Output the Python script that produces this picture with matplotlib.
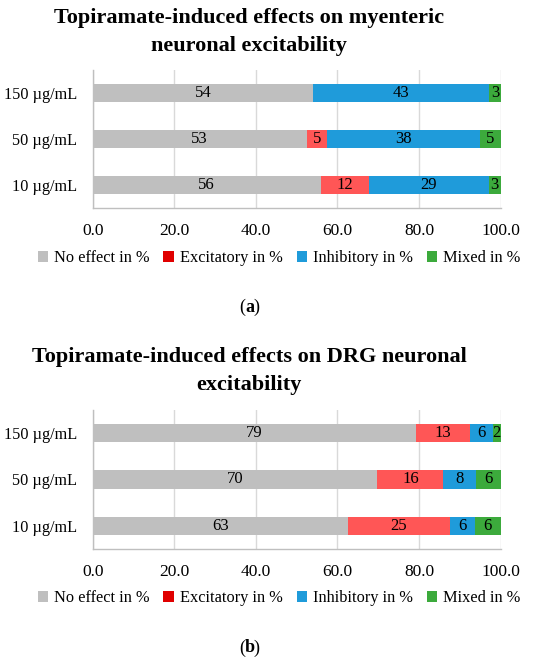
import matplotlib
matplotlib.use("Agg")
import matplotlib.pyplot as plt
from matplotlib.patches import Patch
import numpy as np

plt.rcParams['font.family'] = ['Liberation Serif', 'DejaVu Serif']

doses = ["10 µg/mL", "50 µg/mL", "150 µg/mL"]
series = ["No effect in %", "Excitatory in %", "Inhibitory in %", "Mixed in %"]
bar_colors = ["#BFBFBF", "#FF5656", "#1F9BDA", "#3CAA3C"]
legend_colors = ["#BFBFBF", "#E00000", "#1F9BDA", "#3CAA3C"]
x_ticks = [0, 20, 40, 60, 80, 100]

# panel (a): myenteric neurons, rows follow doses
myenteric_none = [55.9, 52.5, 54.1]
myenteric_exc = [11.8, 5.0, 0.0]
myenteric_inh = [29.4, 37.5, 43.2]
myenteric_mix = [2.9, 5.0, 2.7]

# panel (b): DRG neurons
drg_none = [62.5, 69.8, 79.4]
drg_exc = [25.0, 16.2, 13.0]
drg_inh = [6.25, 7.9, 5.8]
drg_mix = [6.25, 6.1, 1.8]

titles = ["Topiramate-induced effects on myenteric\nneuronal excitability",
          "Topiramate-induced effects on DRG neuronal\nexcitability"]
panel_tags = ["a", "b"]


def draw_panel(ax, data):
    y = np.arange(len(doses))
    left = np.zeros(len(doses))
    for vals, col in zip(data, bar_colors):
        vals = np.array(vals)
        ax.barh(y, vals, left=left, height=0.4, color=col, zorder=3)
        for yi, v, l in zip(y, vals, left):
            if v > 0:
                ax.text(l + v / 2, yi, str(int(v + 0.5)), ha="center", va="center",
                        fontsize=12, color="black", zorder=4)
        left += vals
    ax.set_xlim(0, 100)
    ax.set_ylim(-0.5, len(doses) - 0.5)
    ax.set_yticks(y)
    ax.set_yticklabels(doses, fontsize=11.7)
    ax.set_xticks(x_ticks)
    ax.set_xticklabels([f"{t:.1f}" for t in x_ticks], fontsize=12.5)
    ax.tick_params(axis="x", length=0, pad=11)
    ax.tick_params(axis="y", length=0, pad=11)
    ax.grid(axis="x", color="#D9D9D9", linewidth=1, zorder=0)
    for s in ["top", "right"]:
        ax.spines[s].set_visible(False)
    for s in ["left", "bottom"]:
        ax.spines[s].set_color("#BFBFBF")
        ax.spines[s].set_linewidth(1)


fig = plt.figure(figsize=(5.5, 6.63), dpi=100)
H = 663.0
W = 550.0

panels = [
    dict(data=[myenteric_none, myenteric_exc, myenteric_inh, myenteric_mix],
         top=70, bottom=208, title_y=32, legend_y=258, tag_y=307),
    dict(data=[drg_none, drg_exc, drg_inh, drg_mix],
         top=410, bottom=549, title_y=371, legend_y=598, tag_y=648),
]

handles = [Patch(facecolor=c, edgecolor="none") for c in legend_colors]

for p, title, tag in zip(panels, titles, panel_tags):
    ax = fig.add_axes([92.7 / W, 1 - p["bottom"] / H, (500.5 - 92.7) / W,
                       (p["bottom"] - p["top"]) / H])
    draw_panel(ax, p["data"])
    fig.text(249 / W, 1 - p["title_y"] / H, title, ha="center", va="center",
             fontsize=16, fontweight="bold", linespacing=1.5)
    fig.legend(handles, series, loc="center", ncol=4,
               bbox_to_anchor=(279 / W, 1 - p["legend_y"] / H), frameon=False,
               fontsize=11.8, handlelength=0.65, handleheight=0.65,
               handletextpad=0.35, columnspacing=0.85, borderaxespad=0)
    fig.text(245 / W, 1 - p["tag_y"] / H, "(", ha="right", va="center", fontsize=13)
    fig.text(245 / W, 1 - p["tag_y"] / H, tag, ha="left", va="center",
             fontsize=13, fontweight="bold")
    fig.text(245 / W + 0.0155, 1 - p["tag_y"] / H, ")", ha="left", va="center",
             fontsize=13)

fig.savefig("out.png", dpi=100)
